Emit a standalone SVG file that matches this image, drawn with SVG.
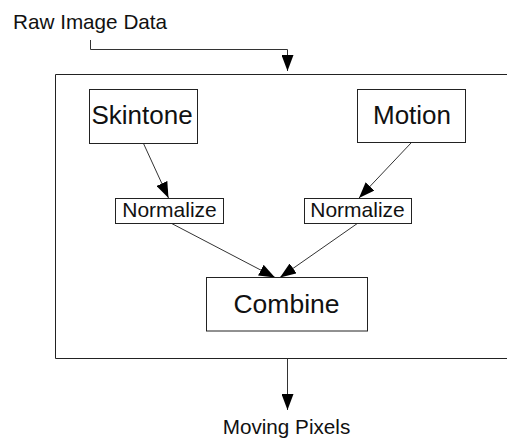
<svg xmlns="http://www.w3.org/2000/svg" width="508" height="441" viewBox="0 0 508 441">
  <style>
    .box { fill: #fff; stroke: #222; stroke-width: 1; }
    .frame { fill: none; stroke: #222; stroke-width: 1; }
    .wire { fill: none; stroke: #333; stroke-width: 1; }
    text { font-family: "Liberation Sans", Arial, sans-serif; fill: #111; }
    .big { font-size: 26px; text-anchor: middle; }
    .mid { font-size: 21px; text-anchor: middle; }
    .io { font-size: 20.7px; }
  </style>
  <defs>
    <marker id="arrow" markerUnits="userSpaceOnUse" markerWidth="16" markerHeight="12" refX="16" refY="6" orient="auto">
      <path d="M0,0 L16,6 L0,12 z" fill="#000"/>
    </marker>
  </defs>

  <!-- enclosing processing block (open on the right) -->
  <path class="frame" d="M507,74.5 H55.5 V358.5 H507"/>

  <!-- connectors -->
  <g id="connectors">
    <polyline class="wire" points="90.5,40 90.5,49.5 287.5,49.5 287.5,71" marker-end="url(#arrow)"/>
    <line class="wire" x1="143.5" y1="143.5" x2="168.5" y2="198" marker-end="url(#arrow)"/>
    <line class="wire" x1="411" y1="143" x2="359" y2="198" marker-end="url(#arrow)"/>
    <line class="wire" x1="171.7" y1="223.5" x2="275" y2="277.5" marker-end="url(#arrow)"/>
    <line class="wire" x1="357.3" y1="223.5" x2="280" y2="277.5" marker-end="url(#arrow)"/>
    <line class="wire" x1="287.5" y1="358.5" x2="287.5" y2="410" marker-end="url(#arrow)"/>
  </g>

  <g id="input">
    <text class="io" x="13" y="29">Raw Image Data</text>
  </g>

  <g id="skintone">
    <rect class="box" x="89.5" y="89.5" width="108" height="54"/>
    <text class="big" x="142" y="124">Skintone</text>
  </g>

  <g id="motion">
    <rect class="box" x="357.5" y="89.5" width="108" height="53"/>
    <text class="big" x="412" y="124">Motion</text>
  </g>

  <g id="normalize-left">
    <rect class="box" x="115.5" y="198.5" width="108" height="25"/>
    <text class="mid" x="169.5" y="216.7">Normalize</text>
  </g>

  <g id="normalize-right">
    <rect class="box" x="304.5" y="198.5" width="107" height="25"/>
    <text class="mid" x="357.5" y="216.7">Normalize</text>
  </g>

  <g id="combine">
    <rect class="box" x="206.5" y="277.5" width="161" height="53.5"/>
    <text class="big" x="286.5" y="312.7" style="font-size:26.5px">Combine</text>
  </g>

  <g id="output">
    <text class="io" x="286.5" y="434" text-anchor="middle">Moving Pixels</text>
  </g>
</svg>
